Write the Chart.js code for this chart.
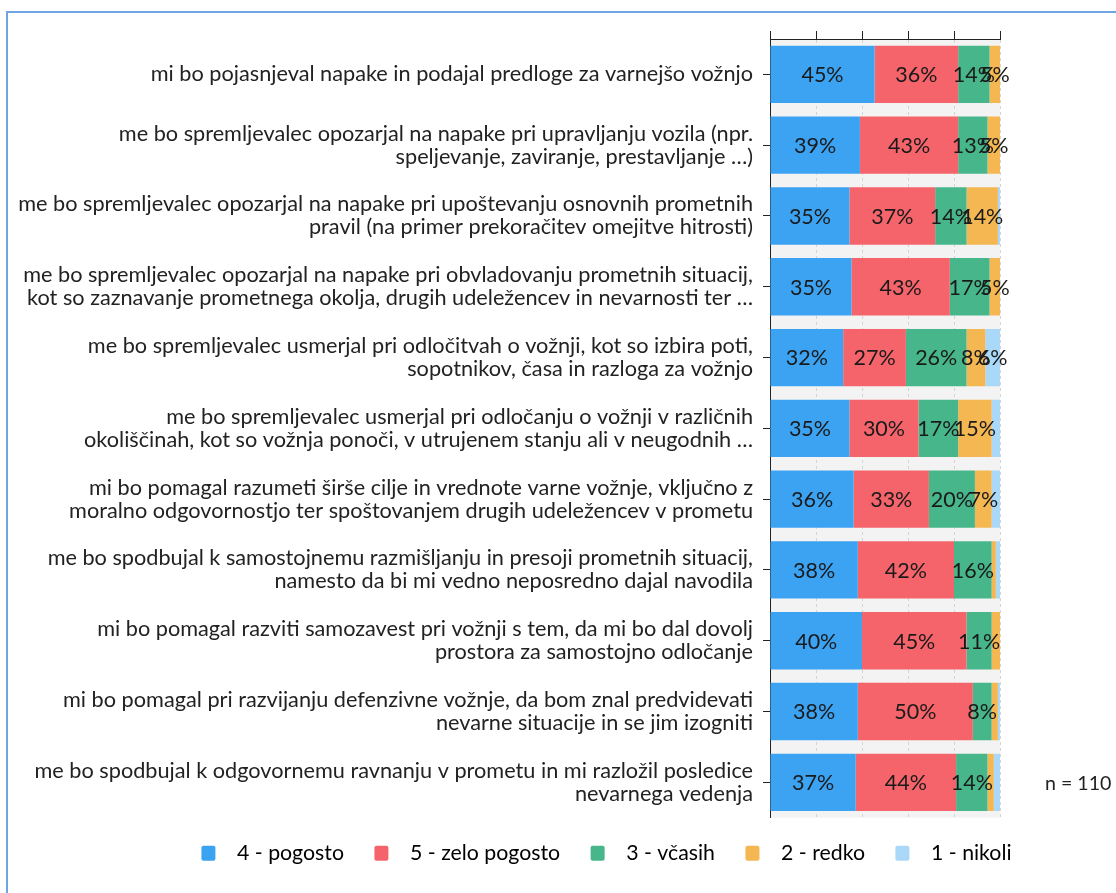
<!DOCTYPE html>
<html><head><meta charset="utf-8">
<script src="https://cdn.jsdelivr.net/npm/chart.js@4.4.1/dist/chart.umd.min.js"></script>
<style>
html,body{margin:0;padding:0;background:#fff;width:1116px;height:893px;overflow:hidden}
#frame{position:absolute;left:6px;top:11px;width:1200px;height:1000px;border-left:2px solid #6fa5e2;border-top:2px solid #6fa5e2}
#c{position:absolute;left:0;top:0}
</style></head><body>
<div id="frame"></div>
<canvas id="c" width="1116" height="893"></canvas>
<script>
const categories = [
  "mi bo pojasnjeval napake in podajal predloge za varnejšo vožnjo",
  ["me bo spremljevalec opozarjal na napake pri upravljanju vozila (npr.", "speljevanje, zaviranje, prestavljanje …)"],
  ["me bo spremljevalec opozarjal na napake pri upoštevanju osnovnih prometnih", "pravil (na primer prekoračitev omejitve hitrosti)"],
  ["me bo spremljevalec opozarjal na napake pri obvladovanju prometnih situacij,", "kot so zaznavanje prometnega okolja, drugih udeležencev in nevarnosti ter …"],
  ["me bo spremljevalec usmerjal pri odločitvah o vožnji, kot so izbira poti,", "sopotnikov, časa in razloga za vožnjo"],
  ["me bo spremljevalec usmerjal pri odločanju o vožnji v različnih", "okoliščinah, kot so vožnja ponoči, v utrujenem stanju ali v neugodnih …"],
  ["mi bo pomagal razumeti širše cilje in vrednote varne vožnje, vključno z", "moralno odgovornostjo ter spoštovanjem drugih udeležencev v prometu"],
  ["me bo spodbujal k samostojnemu razmišljanju in presoji prometnih situacij,", "namesto da bi mi vedno neposredno dajal navodila"],
  ["mi bo pomagal razviti samozavest pri vožnji s tem, da mi bo dal dovolj", "prostora za samostojno odločanje"],
  ["mi bo pomagal pri razvijanju defenzivne vožnje, da bom znal predvidevati", "nevarne situacije in se jim izogniti"],
  ["me bo spodbujal k odgovornemu ravnanju v prometu in mi razložil posledice", "nevarnega vedenja"]
];
const seriesNames = ["4 - pogosto", "5 - zelo pogosto", "3 - včasih", "2 - redko", "1 - nikoli"];
const seriesColors = ["#3ca3f3", "#f6646b", "#47b68b", "#f5b752", "#a9d8f8"];
const pogosto4    = [45.45, 39.09, 34.55, 35.45, 31.82, 34.55, 36.36, 38.18, 40.00, 38.18, 37.27];
const zeloPogosto5= [36.36, 42.73, 37.27, 42.73, 27.27, 30.00, 32.73, 41.82, 45.45, 50.00, 43.64];
const vcasih3     = [13.64, 12.73, 13.64, 17.27, 26.36, 17.27, 20.00, 16.36, 10.91, 8.18, 13.64];
const redko2      = [4.55, 5.45, 13.64, 4.55, 8.18, 14.55, 7.27, 1.82, 3.64, 2.73, 2.73];
const nikoli1     = [0, 0, 0.91, 0, 6.36, 3.64, 3.64, 1.82, 0, 0.91, 2.73];
const sampleNote = "n = 110";
const xTicks = [0, 20, 40, 60, 80, 100];

const FONT = "Lato";
const seriesData = [pogosto4, zeloPogosto5, vcasih3, redko2, nikoli1];

const bgPlugin = {
  id: 'bg',
  beforeDraw(chart) {
    const {ctx, chartArea: a} = chart;
    ctx.save();
    ctx.fillStyle = '#f3f3f3';
    ctx.fillRect(a.left, a.top, a.right - a.left, a.bottom - a.top);
    ctx.restore();
  }
};
const labelPlugin = {
  id: 'vals',
  afterDatasetsDraw(chart) {
    const ctx = chart.ctx;
    ctx.save();
    ctx.font = `21.5px ${FONT}`;
    ctx.fillStyle = '#1a1a1a';
    ctx.textAlign = 'center';
    ctx.textBaseline = 'middle';
    chart.data.datasets.forEach((ds, i) => {
      const meta = chart.getDatasetMeta(i);
      meta.data.forEach((el, j) => {
        const v = ds.data[j];
        if (v < 4) return;
        const p = el.getProps(['x', 'y', 'base'], true);
        ctx.fillText(Math.round(v) + '%', (p.x + p.base) / 2, p.y + 1);
      });
    });
    ctx.restore();
  }
};
const notePlugin = {
  id: 'note',
  afterDraw(chart) {
    const {ctx, chartArea: a} = chart;
    ctx.save();
    ctx.font = `19.6px ${FONT}`;
    ctx.fillStyle = '#222';
    ctx.textAlign = 'left';
    ctx.textBaseline = 'middle';
    ctx.fillText(sampleNote, a.right + 45, a.bottom - 34);
    ctx.restore();
  }
};

new Chart(document.getElementById('c'), {
  type: 'bar',
  data: {
    labels: categories,
    datasets: seriesNames.map((n, i) => ({
      label: n,
      data: seriesData[i],
      backgroundColor: seriesColors[i],
      borderWidth: 0,
      barPercentage: 0.9,
      categoryPercentage: 0.9
    }))
  },
  options: {
    indexAxis: 'y',
    responsive: false,
    animation: false,
    layout: {padding: {left: 0, right: 74, top: 31, bottom: 19}},
    plugins: {
      tooltip: {enabled: false},
      legend: {
        position: 'bottom',
        align: 'end',
        labels: {
          font: {family: FONT, size: 21.3},
          color: '#222',
          boxWidth: 14,
          boxHeight: 15,
          padding: 25,
          useBorderRadius: true,
          borderRadius: 2,
          generateLabels(chart) {
            return chart.data.datasets.map((ds, i) => ({
              text: '  ' + ds.label + ' ',
              fillStyle: ds.backgroundColor,
              strokeStyle: ds.backgroundColor,
              lineWidth: 0,
              borderRadius: 2,
              datasetIndex: i,
              hidden: false
            }));
          }
        }
      }
    },
    scales: {
      x: {
        position: 'top',
        stacked: true,
        min: 0, max: 100,
        afterBuildTicks(s) { s.ticks = xTicks.map(v => ({value: v})); },
        ticks: {display: false},
        grid: {color: '#d4d4d4', tickColor: '#222', tickLength: 8, lineWidth: 1},
        border: {display: true, color: '#222', dash: [3, 3]},
        afterFit(s) { s.height = 8; }
      },
      y: {
        stacked: true,
        ticks: {
          autoSkip: false,
          color: '#222',
          padding: 10,
          font: {family: FONT, size: 21.7, lineHeight: 1.06}
        },
        grid: {offset: false, drawOnChartArea: false, tickColor: '#222', tickLength: 7},
        border: {display: true, color: '#222'},
        afterFit(s) { s.width = 770; }
      },
      yr: {
        type: 'category',
        position: 'right',
        labels: categories.map(() => ''),
        grid: {display: false},
        ticks: {display: false},
        border: {display: false},
        afterFit(s) { s.width = 42; }
      }
    }
  },
  plugins: [bgPlugin, labelPlugin, notePlugin]
});
</script>
</body></html>
